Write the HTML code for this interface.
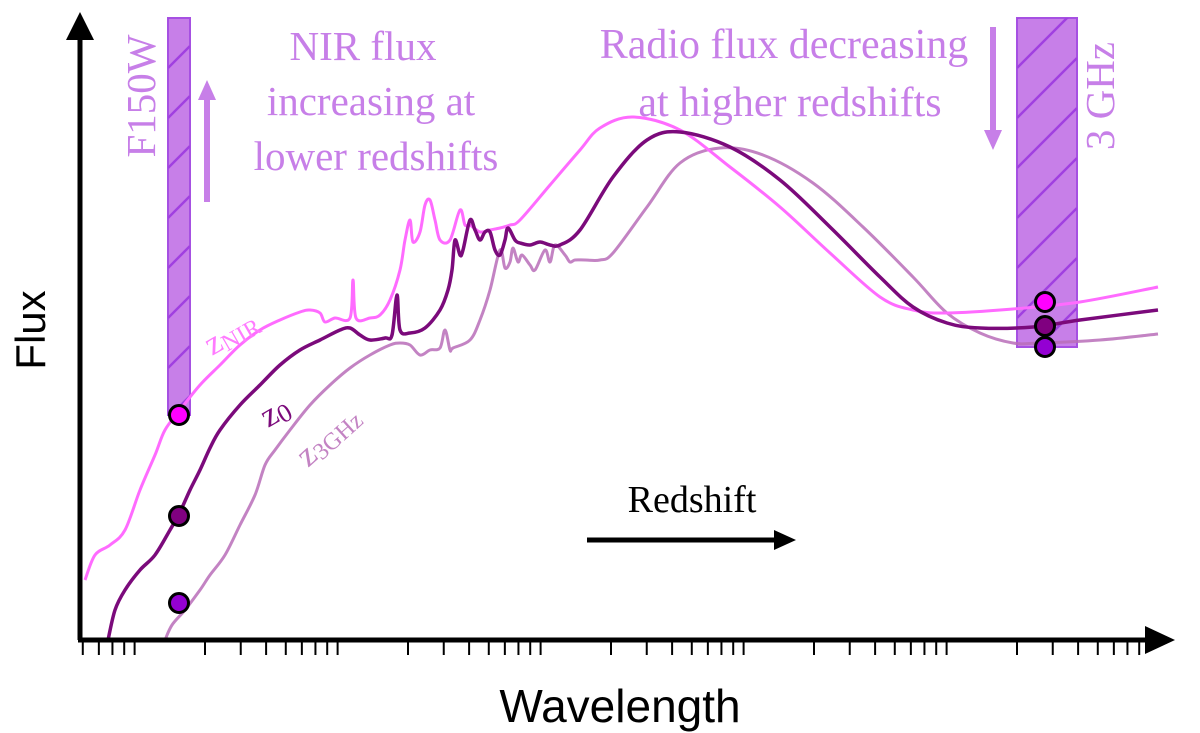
<!DOCTYPE html>
<html><head><meta charset="utf-8"><style>
html,body{margin:0;padding:0;background:#fff;}
svg{display:block;}
</style></head><body>
<svg id="chart" width="1200" height="733" viewBox="0 0 1200 733" xmlns="http://www.w3.org/2000/svg">
<defs>
<clipPath id="clipL"><rect x="168" y="18" width="22" height="397"/></clipPath>
<clipPath id="clipR"><rect x="1017" y="18" width="60" height="329"/></clipPath>
</defs>
<g id="bands"></g>
<g id="curves"></g>
<g id="axes">
<line x1="80" y1="640" x2="80" y2="30" stroke="#000" stroke-width="5"/>
<polygon points="80,12 66,40 94,40" fill="#000"/>
<line x1="78" y1="640" x2="1150" y2="640" stroke="#000" stroke-width="5"/>
<polygon points="1175,640 1145,626 1145,654" fill="#000"/>
<g id="ticks"></g>
</g>
<g id="dots"></g>
<text x="45" y="330" transform="rotate(-90 45 330)" text-anchor="middle" font-family="Liberation Sans, sans-serif" font-size="42" fill="#000">Flux</text>
<text x="620" y="722" text-anchor="middle" font-family="Liberation Sans, sans-serif" font-size="46" fill="#000">Wavelength</text>
<text x="155" y="96" transform="rotate(-90 155 96)" text-anchor="middle" font-family="Liberation Serif, serif" font-size="41" fill="#c77fe8">F150W</text>
<text x="1114" y="96" transform="rotate(-90 1114 96)" text-anchor="middle" font-family="Liberation Serif, serif" font-size="41" fill="#c77fe8">3 GHz</text>
<g font-family="Liberation Serif, serif" font-size="41" fill="#c77fe8" text-anchor="middle">
<text x="363" y="60">NIR flux</text>
<text x="371" y="115">increasing at</text>
<text x="376" y="170">lower redshifts</text>
</g>
<g font-family="Liberation Serif, serif" font-size="42" fill="#c77fe8" text-anchor="middle">
<text x="784" y="58">Radio flux decreasing</text>
<text x="790" y="116">at higher redshifts</text>
</g>
<g>
<line x1="207" y1="202" x2="207" y2="95" stroke="#c77fe8" stroke-width="6"/>
<polygon points="207,80 198,100 216,100" fill="#c77fe8"/>
</g>
<g>
<line x1="993" y1="27" x2="993" y2="135" stroke="#c77fe8" stroke-width="6"/>
<polygon points="993,150 984,130 1002,130" fill="#c77fe8"/>
</g>
<text x="692" y="512" text-anchor="middle" font-family="Liberation Serif, serif" font-size="38" fill="#000">Redshift</text>
<g>
<line x1="587" y1="540" x2="778" y2="540" stroke="#000" stroke-width="5"/>
<polygon points="796,540 774,530 774,550" fill="#000"/>
</g>
<text x="212" y="356" transform="rotate(-30 212 356)" font-family="Liberation Serif, serif" font-size="34" fill="#ff7bff">z<tspan font-size="24" dy="4">NIR</tspan></text>
<text x="268" y="428" transform="rotate(-30 268 428)" font-family="Liberation Serif, serif" font-size="34" fill="#7b0a7b">z<tspan font-size="26" dy="4">0</tspan></text>
<text x="308" y="468" transform="rotate(-42 308 468)" font-family="Liberation Serif, serif" font-size="34" fill="#c383c3">z<tspan font-size="24" dy="4">3GHz</tspan></text>
</svg>
<script>
// axis-unit data: x = position along log-wavelength axis, y = flux
const nirX = [5,15,30,45,60,75,85,100,120,140,160,180,200,220,230,240,245,255,270,273,276,290,300,310,320,325,330,333,340,345,350,355,360,370,380,385,390,400,410,420,430,440,470,500,520,553,600,650,700,750,800,833,867,933,1000,1078];
const nirY = [60,85,95,110,150,185,210,230,255,275,295,310,320,328,330,327,318,322,322,360,322,322,325,340,370,400,420,398,408,435,440,420,400,400,430,415,415,408,410,412,415,420,455,490,512,523,510,473,433,387,343,330,327,331,338,353];
const z0X = [28,35,45,60,75,90,100,110,120,130,140,160,180,200,220,240,260,270,280,290,305,312,317,320,330,345,360,368,372,375,380,383,390,395,400,405,410,415,420,425,428,435,440,450,460,470,480,500,533,567,600,650,700,750,800,833,867,900,953,1000,1078];
const z0Y = [0,30,50,70,85,110,128,150,170,192,210,235,255,275,290,300,310,312,305,300,302,305,345,310,307,312,330,350,370,400,385,390,420,410,400,408,408,390,385,400,412,400,397,395,398,395,395,410,463,500,508,493,460,413,363,333,317,312,313,320,330];
const z3X = [85,92,105,120,130,145,160,175,185,195,210,230,250,270,290,310,320,330,340,350,360,365,370,373,390,400,410,420,425,430,433,438,442,450,455,465,470,475,485,490,495,505,520,533,567,600,640,683,733,783,833,867,900,933,960,1020,1078];
const z3Y = [0,15,30,50,65,85,115,145,175,190,210,235,255,272,285,295,297,295,285,290,292,310,290,292,300,320,350,390,372,378,392,378,385,375,370,390,378,395,385,378,380,380,380,387,433,477,492,485,457,413,363,327,307,297,297,300,306];
// photometry points: x, flux for each redshift (NIR band, radio band)
const dotX = [99,99,99,965,965,965];
const dotY = [225,124,37,338,314,293];
const dotFill = ["#ff00ff","#800080","#9400d3","#ff00ff","#800080","#9400d3"];
// log axis ticks: decade index and subticks
const decades = [-1,0,1,2,3,4,5];
const subTicks = [1,1.5,2,2.5,3,3.5,4,4.5];
</script>
<script>
const NS="http://www.w3.org/2000/svg";
function xs(v){return 80+v;}
function ys(v){return 640-v;}
function xLog(d,k){return 2+203*(d+Math.log10(k));}
const ticksG=document.getElementById('ticks');
decades.forEach(d=>{subTicks.forEach(k=>{
  const x=xLog(d,k);
  if(x<80||x>1140) return;
  const l=document.createElementNS(NS,'line');
  l.setAttribute('x1',x);l.setAttribute('x2',x);l.setAttribute('y1',640);l.setAttribute('y2',655);
  l.setAttribute('stroke','#000');l.setAttribute('stroke-width',2);
  
  
  ticksG.appendChild(l);
});});
const bandsG=document.getElementById('bands');
function band(x,y,w,h,clip,name){
  const r=document.createElementNS(NS,'rect');
  r.setAttribute('x',x);r.setAttribute('y',y);r.setAttribute('width',w);r.setAttribute('height',h);
  r.setAttribute('fill','#c77fe8');r.setAttribute('stroke','#a650e2');r.setAttribute('stroke-width',2);
  
  
  bandsG.appendChild(r);
  const g=document.createElementNS(NS,'g');g.setAttribute('clip-path','url(#'+clip+')');
  for(let yy=y-w;yy<y+h+w;yy+=50){
    const l=document.createElementNS(NS,'line');
    l.setAttribute('x1',x);l.setAttribute('y1',yy+w);l.setAttribute('x2',x+w);l.setAttribute('y2',yy);
    l.setAttribute('stroke','#a040e0');l.setAttribute('stroke-width',2.5);
    g.appendChild(l);
  }
  bandsG.appendChild(g);
}
band(168,18,22,397,'clipL','f150w-band');
band(1017,18,60,329,'clipR','3ghz-band');
const curvesG=document.getElementById('curves');
function curve(X,Y,color,w,op,name){
  const p=document.createElementNS(NS,'path');
  const n=Math.min(X.length,Y.length);
  const P=[];
  for(let i=0;i<n;i++) P.push([xs(X[i]),ys(Y[i])]);
  let d='M'+P[0][0]+','+P[0][1];
  for(let i=1;i<n;i++){
    const p0=P[Math.max(i-2,0)],p1=P[i-1],p2=P[i],p3=P[Math.min(i+1,n-1)];
    const t=1/6;
    const c1=[p1[0]+(p2[0]-p0[0])*t,p1[1]+(p2[1]-p0[1])*t];
    const c2=[p2[0]-(p3[0]-p1[0])*t,p2[1]-(p3[1]-p1[1])*t];
    d+='C'+c1[0].toFixed(1)+','+c1[1].toFixed(1)+' '+c2[0].toFixed(1)+','+c2[1].toFixed(1)+' '+p2[0].toFixed(1)+','+p2[1].toFixed(1);
  }
  p.setAttribute('d',d);p.setAttribute('fill','none');p.setAttribute('stroke',color);
  p.setAttribute('stroke-width',w);p.setAttribute('stroke-opacity',op);p.setAttribute('stroke-linejoin','round');
  
  
  curvesG.appendChild(p);
}
curve(z3X,z3Y,'#b86db8',3,0.85,'sed-z3ghz');
curve(nirX,nirY,'#ff6bff',3,1,'sed-znir');
curve(z0X,z0Y,'#7b0a7b',3.5,1,'sed-z0');
const dotsG=document.getElementById('dots');
for(let i=0;i<dotX.length;i++){
  const c=document.createElementNS(NS,'circle');
  c.setAttribute('cx',xs(dotX[i]));c.setAttribute('cy',ys(dotY[i]));c.setAttribute('r',9.5);
  c.setAttribute('fill',dotFill[i]);c.setAttribute('stroke','#000');c.setAttribute('stroke-width',3);
  
  
  dotsG.appendChild(c);
}
</script>
</body></html>
